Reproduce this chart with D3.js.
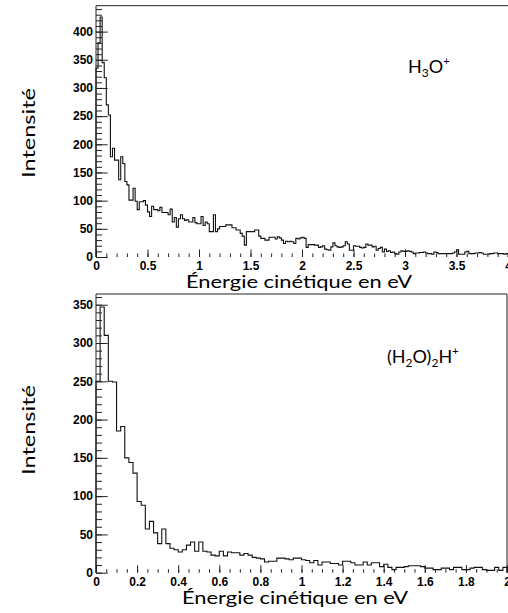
<!DOCTYPE html>
<html><head><meta charset="utf-8">
<script src="https://cdn.jsdelivr.net/npm/d3@7"></script>
<style>body{margin:0;background:#fff}svg{display:block}</style>
</head><body>
<svg id="c" width="508" height="613"></svg>
<script>
// ---- data ----
const binWidth = 0.02;
const topCounts = [
335,380,426,345,318,270,252,
178,193,172,172,137,178,166,134,128,
101,101,122,99,84,98,98,100,92,
80,72,90,84,84, 82,88,79,79,79, 75,85,62,70,53,
68,75,68,65,66, 62,62,70,61,59, 59,72,56,62,59,
45,45,75,45,50, 54,54,54,57,57, 57,52,52,48,48,
42,37,21,45,45, 45,45,48,48,37, 33,33,30,30,35,
35,35,32,36,34, 30,24,28,27,28, 27,24,33,32,34,
35,33,17,22,22, 22,21,21,17,18, 20,14,13,12,18,
25,20,18,17,18, 20,27,23,12,12, 20,19,19,17,16,
17,23,21,21,18, 19,12,15,17,9, 14,10,11,8,9,
6,5,9,11,10, 10,11,10,9,6, 7,7,8,8,9,
7,6,6,5,9, 8,6,6,6,6, 6,6,6,7,9,
13,5,5,5,9, 10,6,6,6,7, 7,8,7,5,5,
5,6,6,7,7, 6,6,6,5,6];
const bottomCounts = [
250,347,310,250,249,185,191,150,144,130,
93,88,57,67,52,38,57,38,32,30,
27,30,36,40,28,40,28,27,23,
22,28,22,27,26,26,23,25,23,20,19,
18,14,15,15,19,19,18,17,19,19,
17,16,13,16,10,14,14,12,12,10,
15,15,13,10,10,14,10,13,13,8,
11,7,4,7,7,8,9,9,9,8,
6,6,4,4,6,6,4,7,7,4,
4,6,7,7,4,3,3,7,3,7];
const topXTicks = [0,0.5,1,1.5,2,2.5,3,3.5,4];
const topXLabels = ["0","0.5","1","1.5","2","2.5","3","3.5","4"];
const topYTicks = [0,50,100,150,200,250,300,350,400];
const bottomXTicks = [0,0.2,0.4,0.6,0.8,1,1.2,1.4,1.6,1.8,2];
const bottomXLabels = ["0","0.2","0.4","0.6","0.8","1","1.2","1.4","1.6","1.8","2"];
const bottomYTicks = [0,50,100,150,200,250,300,350];
const xTitle = "Énergie cinétique en eV";
const yTitle = "Intensité";

const svg = d3.select("#c");
const tickFont = "'Liberation Sans', Arial, sans-serif";
const titleFont = "Lato, 'Open Sans', sans-serif";

function panel(o){
  const x = d3.scaleLinear().domain([0,o.xmax]).range([o.left,o.right]);
  const y = d3.scaleLinear().domain([0,o.ymax]).range([o.bottom,o.top]);
  const g = svg.append("g");
  // frame
  g.append("path").attr("fill","none").attr("stroke","#222").attr("stroke-width",1)
    .attr("d", o.rightBorder
      ? `M${o.left},${o.bottom}V${o.top}H${o.right}V${o.bottom}`
      : `M${o.left},${o.bottom}V${o.top}H${o.right+2}`);
  // histogram
  const pts = [[0,0]].concat(o.counts.map((v,i)=>[i*binWidth,v]));
  pts.push([o.counts.length*binWidth, o.counts[o.counts.length-1]]);
  pts.push([o.counts.length*binWidth, 0]);
  const line = d3.line().x(d=>x(d[0])).y(d=>y(d[1])).curve(d3.curveStepAfter);
  g.append("path").attr("d", line(pts)).attr("fill","none").attr("stroke","#111").attr("stroke-width",1.1);

  // minor x ticks
  const xMinor = d3.range(0, o.xmax+1e-9, o.xMinorStep);
  g.append("g").attr("transform",`translate(0,${o.bottom})`)
    .call(d3.axisBottom(x).tickValues(xMinor).tickSize(-3.5).tickFormat(""))
    .call(s=>s.select(".domain").remove());
  // major x ticks
  g.append("g").attr("transform",`translate(0,${o.bottom})`)
    .call(d3.axisBottom(x).tickValues(o.xTicks).tickSize(-7.5).tickPadding(4.5)
      .tickFormat((d,i)=>o.xLabels[i]))
    .call(s=>s.select(".domain").remove())
    .call(s=>s.selectAll("text").attr("font-family",tickFont).attr("font-weight","bold")
      .attr("font-size",12).attr("fill","#000"));
  // minor y ticks
  const yMinor = d3.range(0, o.ymax, 10);
  g.append("g").attr("transform",`translate(${o.left},0)`)
    .call(d3.axisLeft(y).tickValues(yMinor).tickSize(-6).tickFormat(""))
    .call(s=>s.select(".domain").remove());
  g.append("g").attr("transform",`translate(${o.left},0)`)
    .call(d3.axisLeft(y).tickValues(o.yTicks).tickSize(-11.7).tickPadding(3))
    .call(s=>s.select(".domain").remove())
    .call(s=>s.selectAll("text").attr("font-family",tickFont).attr("font-weight","bold")
      .attr("font-size",12).attr("fill","#000"));
  g.selectAll(".tick line").attr("stroke","#222");

  // titles
  g.append("text").attr("x",o.xTitleX).attr("y",o.xTitleY).attr("text-anchor","middle")
    .attr("font-family",titleFont).attr("font-size",18).attr("textLength",226)
    .attr("lengthAdjust","spacingAndGlyphs").text(xTitle);
  g.append("text").attr("transform",`translate(35,${o.yTitleY}) rotate(-90)`)
    .attr("text-anchor","middle").attr("font-family",titleFont).attr("font-size",18)
    .attr("textLength",90).attr("lengthAdjust","spacingAndGlyphs").text(yTitle);
  // species label
  const t = g.append("text").attr("x",o.labelX).attr("y",o.labelY)
    .attr("font-family",titleFont).attr("font-size",18);
  o.label.forEach(p=>{
    const ts = t.append("tspan").text(p.t);
    if(p.s==="sub") ts.attr("font-size",12).attr("dy",p.dy||4);
    else if(p.s==="sup") ts.attr("font-size",11).attr("dy",p.dy||-8);
    else if(p.s==="back") ts.attr("dy",p.dy);
  });
}

panel({counts:topCounts, xmax:4, ymax:446, left:96, right:508, top:5.7, bottom:257,
  xTicks:topXTicks, xLabels:topXLabels, yTicks:topYTicks, xMinorStep:0.1, rightBorder:false,
  xTitleX:299, xTitleY:288, yTitleY:133, labelX:408, labelY:73,
  label:[{t:"H"},{t:"3",s:"sub"},{t:"O",s:"back",dy:-4},{t:"+",s:"sup"}]});
panel({counts:bottomCounts, xmax:2, ymax:364, left:96, right:507, top:294, bottom:572.7,
  xTicks:bottomXTicks, xLabels:bottomXLabels, yTicks:bottomYTicks, xMinorStep:0.05, rightBorder:true,
  xTitleX:295, xTitleY:604, yTitleY:430, labelX:387, labelY:363,
  label:[{t:"(H"},{t:"2",s:"sub"},{t:"O)",s:"back",dy:-4},{t:"2",s:"sub",dy:4},{t:"H",s:"back",dy:-4},{t:"+",s:"sup"}]});
</script>
</body></html>
